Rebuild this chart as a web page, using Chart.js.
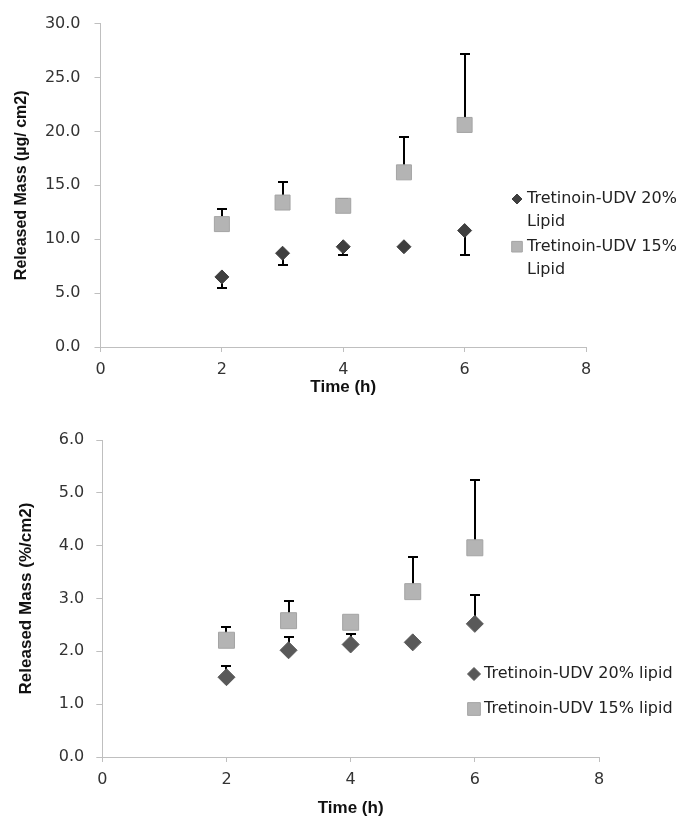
<!DOCTYPE html>
<html>
<head>
<meta charset="utf-8">
<script src="https://cdn.jsdelivr.net/npm/chart.js@4.4.1/dist/chart.umd.min.js"></script>
<style>
  html, body { margin: 0; padding: 0; background: #fff; }
  .box { position: absolute; left: 0; width: 690px; }
</style>
</head>
<body>
<div class="box" style="top:0;height:410px"><canvas id="massChart"></canvas></div>
<div class="box" style="top:410px;height:409px"><canvas id="percentChart"></canvas></div>
<script>
const times = [2, 3, 4, 5, 6];
const label20 = "Tretinoin-UDV 20% Lipid";
const label15 = "Tretinoin-UDV 15% Lipid";
const label20b = "Tretinoin-UDV 20% lipid";
const label15b = "Tretinoin-UDV 15% lipid";

// released mass in µg/cm2
const mass20 = [6.5, 8.7, 9.3, 9.3, 10.8];
const mass20ErrLow = [1.0, 1.1, 0.8, 0.1, 2.3];
const mass15 = [11.4, 13.4, 13.1, 16.2, 20.6];
const mass15ErrHigh = [1.4, 1.9, 0.6, 3.3, 6.6];

// released mass in %/cm2
const pct20 = [1.51, 2.02, 2.13, 2.17, 2.52];
const pct20ErrHigh = [0.22, 0.25, 0.2, 0.05, 0.55];
const pct15 = [2.21, 2.58, 2.55, 3.13, 3.96];
const pct15ErrHigh = [0.25, 0.37, 0.08, 0.65, 1.28];

function points(ys) {
  return times.map((t, i) => ({ x: t, y: ys[i] }));
}

// one-sided error bars, drawn under the markers
const errorBars = {
  id: "errorBars",
  beforeDatasetsDraw(chart) {
    const ctx = chart.ctx;
    const xs = chart.scales.x, ys = chart.scales.y;
    ctx.save();
    ctx.strokeStyle = "#000";
    ctx.lineWidth = 2;
    chart.data.datasets.forEach(ds => {
      const err = ds.errHigh || ds.errLow;
      if (!err) return;
      const sign = ds.errHigh ? 1 : -1;
      ds.data.forEach((p, i) => {
        const x = Math.round(xs.getPixelForValue(p.x));
        const y0 = ys.getPixelForValue(p.y);
        const y1 = Math.round(ys.getPixelForValue(p.y + sign * err[i]));
        ctx.beginPath();
        ctx.moveTo(x, y0);
        ctx.lineTo(x, y1);
        ctx.moveTo(x - 5, y1);
        ctx.lineTo(x + 5, y1);
        ctx.stroke();
      });
    });
    ctx.restore();
  }
};

// legend to the right of the plot, labels wrapped to a width
const sideLegend = {
  id: "sideLegend",
  afterDraw(chart, args, opts) {
    const ctx = chart.ctx;
    ctx.save();
    ctx.font = opts.font;
    ctx.fillStyle = "#222";
    ctx.textBaseline = "middle";
    let y = opts.y;
    chart.data.datasets.forEach(ds => {
      const words = ds.label.split(" ");
      const lines = [];
      let cur = "";
      words.forEach(w => {
        const test = cur ? cur + " " + w : w;
        if (cur && ctx.measureText(test).width > opts.maxWidth) {
          lines.push(cur);
          cur = w;
        } else cur = test;
      });
      lines.push(cur);
      ctx.fillStyle = ds.backgroundColor;
      ctx.strokeStyle = ds.borderColor;
      ctx.lineWidth = 1;
      Chart.helpers.drawPoint(ctx, {
        pointStyle: ds.pointStyle, rotation: 0,
        radius: ds.pointStyle === "rect" ? opts.boxRadius : opts.diamondRadius,
        borderWidth: 1
      }, opts.x, y);
      ctx.fillStyle = "#222";
      lines.forEach((ln, k) => ctx.fillText(ln, opts.x + 10, y + k * opts.lineGap));
      y += lines.length * opts.lineGap + opts.itemGap;
    });
    ctx.restore();
  }
};

function makeChart(id, cfg) {
  return new Chart(document.getElementById(id), {
    type: "scatter",
    data: {
      datasets: [
        {
          label: cfg.labels[0],
          data: points(cfg.series[0]),
          errLow: cfg.errLow[0], errHigh: cfg.errHigh[0],
          pointStyle: "rectRot", pointRadius: cfg.diamond,
          backgroundColor: cfg.diamondColor, borderColor: cfg.diamondColor, pointBorderWidth: 1
        },
        {
          label: cfg.labels[1],
          data: points(cfg.series[1]),
          errLow: cfg.errLow[1], errHigh: cfg.errHigh[1],
          pointStyle: "rect", pointRadius: cfg.square,
          backgroundColor: "#b4b4b4", borderColor: "#a4a4a4", pointBorderWidth: 1
        }
      ]
    },
    options: {
      responsive: true,
      maintainAspectRatio: false,
      animation: false,
      events: [],
      layout: { padding: cfg.padding },
      plugins: {
        legend: { display: false },
        tooltip: { enabled: false },
        sideLegend: cfg.legend
      },
      scales: {
        x: {
          type: "linear", min: 0, max: 8,
          afterFit: s => { s.height = cfg.xHeight; },
          grid: { drawOnChartArea: false, color: "#bfbfbf", tickLength: 5 },
          border: { color: "#bfbfbf" },
          ticks: { stepSize: 2, padding: 8, color: "#333", font: { family: "DejaVu Sans", size: 16 } },
          title: {
            display: true, text: "Time (h)", color: "#111",
            font: { family: "Liberation Sans", size: 17, weight: "bold" },
            padding: { top: 0, bottom: cfg.xTitlePad }
          }
        },
        y: {
          min: 0, max: cfg.yMax,
          afterFit: s => { s.width = cfg.yWidth; },
          grid: { drawOnChartArea: false, color: "#bfbfbf", tickLength: 6 },
          border: { color: "#bfbfbf" },
          ticks: {
            stepSize: cfg.yStep, padding: cfg.yTickPad, color: "#333",
            font: { family: "DejaVu Sans", size: 16 },
            callback: v => v.toFixed(1)
          },
          title: {
            display: true, text: cfg.yTitle, color: "#111",
            font: { family: "Liberation Sans", size: cfg.yTitleSize, weight: "bold" },
            padding: { top: cfg.yTitlePad, bottom: 0 }
          }
        }
      }
    },
    plugins: [errorBars, sideLegend]
  });
}

makeChart("massChart", {
  labels: [label20, label15],
  series: [mass20, mass15],
  errLow: [mass20ErrLow, null],
  errHigh: [null, mass15ErrHigh],
  diamond: 7, square: 10.6, diamondColor: "#3f3f3f",
  padding: { left: 0, top: 23, right: 104, bottom: 0 },
  yWidth: 100.5, xHeight: 63, xTitlePad: 12,
  yMax: 30, yStep: 5, yTickPad: 14,
  yTitle: "Released Mass (µg/ cm2)", yTitleSize: 16, yTitlePad: 12,
  legend: { x: 517, y: 199, maxWidth: 168, lineGap: 22.7, itemGap: 2.3,
            font: "16px 'DejaVu Sans'", diamondRadius: 5, boxRadius: 7.5 }
});

makeChart("percentChart", {
  labels: [label20b, label15b],
  series: [pct20, pct15],
  errLow: [null, null],
  errHigh: [pct20ErrHigh, pct15ErrHigh],
  diamond: 8.5, square: 11.3, diamondColor: "#595959",
  padding: { left: 0, top: 30, right: 91, bottom: 0 },
  yWidth: 102.3, xHeight: 62, xTitlePad: 0,
  yMax: 6, yStep: 1, yTickPad: 12,
  yTitle: "Released Mass (%/cm2)", yTitleSize: 17, yTitlePad: 16,
  legend: { x: 474, y: 264, maxWidth: 220, lineGap: 35, itemGap: 0,
            font: "16px 'DejaVu Sans'", diamondRadius: 6.5, boxRadius: 9 }
});
</script>
</body>
</html>
